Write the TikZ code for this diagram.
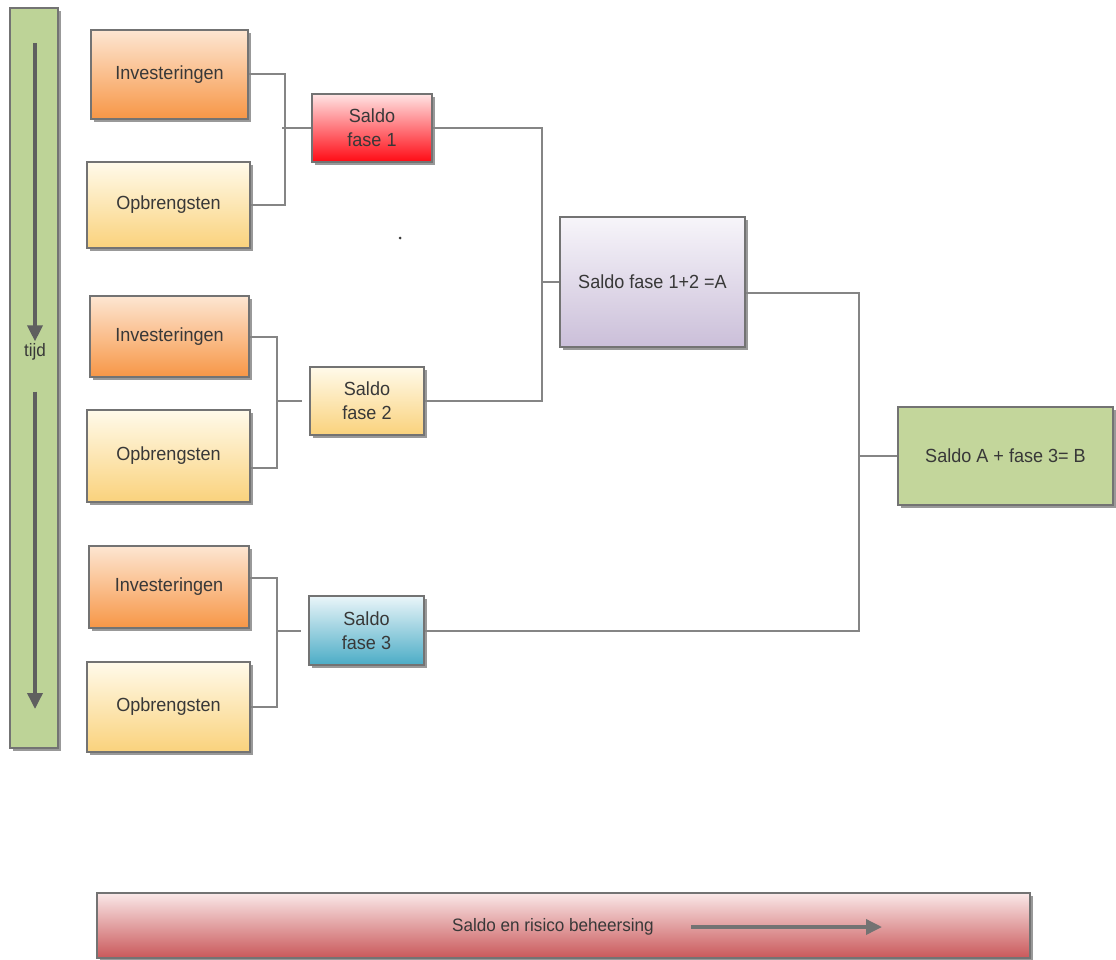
\documentclass[tikz,border=0pt]{standalone}
\usepackage{fontspec}
\setmainfont{Liberation Sans}[FakeStretch=0.95]
\usetikzlibrary{shadows,arrows.meta,calc}
\definecolor{bordergray}{HTML}{737373}
\definecolor{txtgray}{HTML}{383838}
\definecolor{linegray}{HTML}{858585}
\definecolor{arrgray}{HTML}{5F5F5F}
\definecolor{barGreen}{HTML}{BDD397}
\definecolor{bGreen}{HTML}{C3D69B}
\definecolor{invTop}{HTML}{FDE6D2}
\definecolor{invBot}{HTML}{F79646}
\definecolor{opbTop}{HTML}{FFFAEA}
\definecolor{opbBot}{HTML}{FAD27C}
\definecolor{redTop}{HTML}{FFE4E4}
\definecolor{redBot}{HTML}{FF0A14}
\definecolor{blueTop}{HTML}{EAF5F9}
\definecolor{blueBot}{HTML}{4BACC6}
\definecolor{purTop}{HTML}{F7F5FA}
\definecolor{purBot}{HTML}{CBBFD9}
\definecolor{rbTop}{HTML}{FAE8E8}
\definecolor{rbBot}{HTML}{C9585A}
\tikzset{
  boxbase/.style={draw=bordergray, line width=1.8pt, text=txtgray, align=center,
    inner sep=2pt, font=\fontsize{19}{24}\selectfont,
    drop shadow={shadow xshift=2.5pt, shadow yshift=-3pt, fill=black, opacity=0.4}},
  invbox/.style={boxbase, top color=invTop, bottom color=invBot},
  opbbox/.style={boxbase, top color=opbTop, bottom color=opbBot},
  redbox/.style={boxbase, top color=redTop, bottom color=redBot},
  bluebox/.style={boxbase, top color=blueTop, bottom color=blueBot},
  purbox/.style={boxbase, top color=purTop, bottom color=purBot},
  greenbox/.style={boxbase, fill=bGreen},
  barbox/.style={boxbase, fill=barGreen},
  rbbox/.style={boxbase, top color=rbTop, bottom color=rbBot},
  conn/.style={draw=linegray, line width=2pt},
  tarrow/.style={draw=arrgray, line width=3.5pt, -{Triangle[width=15pt,length=16pt]}},
  lbl/.style={text=txtgray, font=\fontsize{18}{22}\selectfont, inner sep=1pt}
}
\begin{document}
\begin{tikzpicture}[x=1pt,y=-1pt]
\useasboundingbox (0,0) rectangle (1116,960);
% time bar
\node[barbox, minimum width=48pt, minimum height=740pt] (bar) at (34,378) {};
\node[lbl] (tijd) at (35,352) {tijd};
\coordinate (t1) at (35,43);
\coordinate (t2) at (35,709);
\draw[tarrow] (t1) -- ([yshift=1pt]tijd.north);
\draw[tarrow] ([yshift=-30pt]tijd.south) -- (t2);
% group 1
\node[invbox, minimum width=157pt, minimum height=89pt] (inv1) at (169.5,74.5) {Investeringen};
\node[opbbox, minimum width=163pt, minimum height=86pt] (opb1) at (168.5,205) {Opbrengsten};
\node[redbox, minimum width=120pt, minimum height=68pt] (s1) at (372,128) {Saldo\\fase 1};
% group 2
\node[invbox, minimum width=159pt, minimum height=81pt] (inv2) at (169.5,336.5) {Investeringen};
\node[opbbox, minimum width=163pt, minimum height=92pt] (opb2) at (168.5,456) {Opbrengsten};
\node[opbbox, minimum width=114pt, minimum height=68pt] (s2) at (367,401) {Saldo\\fase 2};
% group 3
\node[invbox, minimum width=160pt, minimum height=82pt] (inv3) at (169,587) {Investeringen};
\node[opbbox, minimum width=163pt, minimum height=90pt] (opb3) at (168.5,707) {Opbrengsten};
\node[bluebox, minimum width=115pt, minimum height=69pt] (s3) at (366.5,630.5) {Saldo\\fase 3};
% results
\node[purbox, minimum width=185pt, minimum height=130pt] (A) at (652.5,282) {Saldo fase 1+2 =A};
\node[greenbox, minimum width=215pt, minimum height=98pt] (B) at (1005.5,456) {Saldo A + fase 3= B};
% bottom bar
\node[rbbox, minimum width=933pt, minimum height=65pt] (rb) at (563.5,925.5) {};
\node[lbl] (rbt) at (553,927) {Saldo en risico beheersing};
\coordinate (rbend) at (882,927);
\draw[tarrow, draw=bordergray] ([xshift=36pt]rbt.east) -- (rbend);
% stray dot
\fill[txtgray] (400,238) circle (1.5pt);
% connector columns
\coordinate (c1) at (285,0);
\coordinate (c2) at (277,0);
\coordinate (c3) at (277,0);
\coordinate (cA) at (542,0);
\coordinate (cB) at (859,0);
% group 1 connectors
\draw[conn] (inv1.east) -| (c1 |- opb1.east) -- (opb1.east);
\draw[conn] ([xshift=-3pt]c1 |- s1.west) -- (s1.west);
% group 2 connectors
\draw[conn] (inv2.east) -| ($(c2 |- opb2.east)+(0,12)$) -- ([yshift=-12pt]opb2.east);
\draw[conn] (c2 |- s2.west) -- ([xshift=-7pt]s2.west);
% group 3 connectors
\draw[conn] ([yshift=9pt]inv3.east) -| (c3 |- opb3.east) -- (opb3.east);
\draw[conn] (c3 |- s3.west) -- ([xshift=-7pt]s3.west);
% A connectors
\draw[conn] (s1.east) -| (cA |- s2.east) -- (s2.east);
\draw[conn] (cA |- A.west) -- (A.west);
% B connectors
\draw[conn] ([yshift=-11pt]A.east) -| (cB |- s3.east) -- (s3.east);
\draw[conn] (cB |- B.west) -- (B.west);
\end{tikzpicture}
\end{document}
